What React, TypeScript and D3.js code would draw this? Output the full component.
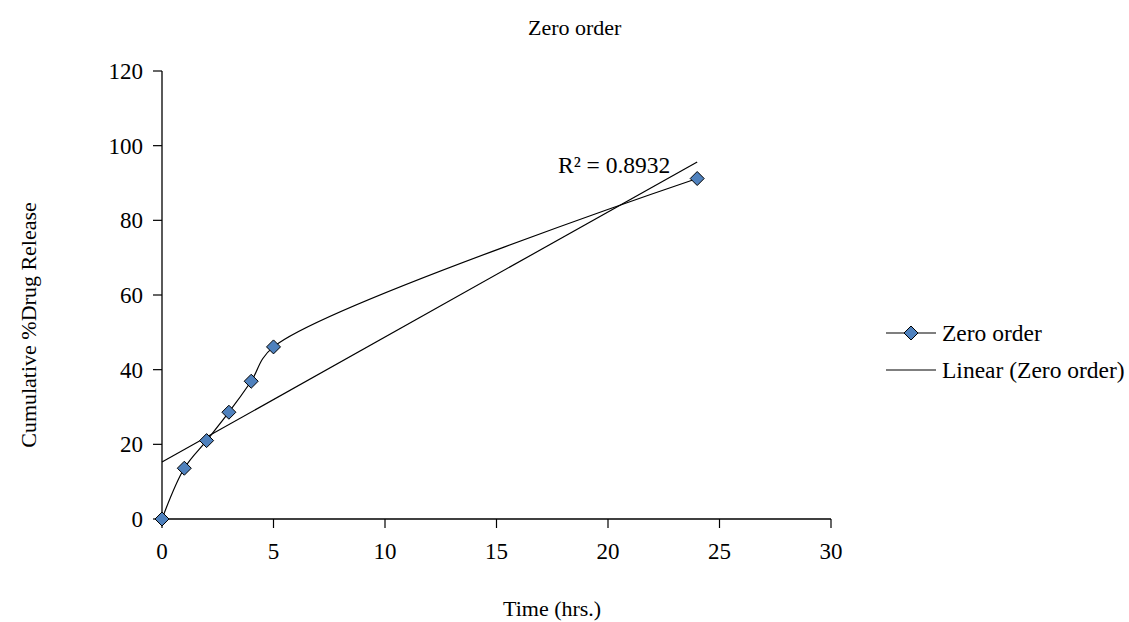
import React from "react";
import * as d3 from "d3";

const timeHrs = [0, 1, 2, 3, 4, 5, 24];
const releasePct = [0, 13.6, 21.0, 28.6, 36.9, 46.1, 91.2];
const xTicks = [0, 5, 10, 15, 20, 25, 30];
const yTicks = [0, 20, 40, 60, 80, 100, 120];
const seriesName = "Zero order";
const trendName = "Linear (Zero order)";
const r2Label = "R² = 0.8932";

const W = 1129;
const H = 622;
const FONT = "'Liberation Serif', 'Times New Roman', serif";

export default function App() {
  const x = d3.scaleLinear().domain([0, 30]).range([162, 831]);
  const y = d3.scaleLinear().domain([0, 120]).range([519, 71]);

  const pts = timeHrs.map((t, i) => [t, releasePct[i]] as [number, number]);
  const mx = d3.mean(timeHrs)!;
  const my = d3.mean(releasePct)!;
  const sxy = d3.sum(pts, (p) => (p[0] - mx) * (p[1] - my));
  const sxx = d3.sum(pts, (p) => (p[0] - mx) ** 2);
  const slope = sxy / sxx;
  const intercept = my - slope * mx;
  const xMax = d3.max(timeHrs)!;

  const line = d3
    .line<[number, number]>()
    .x((d) => x(d[0]))
    .y((d) => y(d[1]))
    .curve(d3.curveCatmullRom.alpha(0.5));

  const diamond = (cx: number, cy: number, r = 7) =>
    `M${cx},${cy - r}L${cx + r},${cy}L${cx},${cy + r}L${cx - r},${cy}Z`;

  return (
    <svg
      width={W}
      height={H}
      style={{ position: "absolute", left: 0, top: 0, background: "#fff" }}
      fontFamily={FONT}
    >
      <rect width={W} height={H} fill="#fff" />
      <text x={528} y={35} fontSize={22} fill="#000">
        {seriesName}
      </text>

      {/* axes */}
      <line x1={x(0)} x2={x(0)} y1={y(0)} y2={y(120)} stroke="#000" strokeWidth={1.3} />
      <line x1={x(0)} x2={x(30)} y1={y(0)} y2={y(0)} stroke="#000" strokeWidth={1.3} />
      {yTicks.map((t) => (
        <g key={"y" + t}>
          <line x1={x(0) - 9} x2={x(0)} y1={y(t)} y2={y(t)} stroke="#000" strokeWidth={1.2} />
          <text x={x(0) - 19} y={y(t)} dy="0.35em" textAnchor="end" fontSize={23} fill="#000">
            {t}
          </text>
        </g>
      ))}
      {xTicks.map((t) => (
        <g key={"x" + t}>
          <line x1={x(t)} x2={x(t)} y1={y(0)} y2={y(0) + 9} stroke="#000" strokeWidth={1.2} />
          <text x={x(t)} y={y(0) + 40} textAnchor="middle" fontSize={23} fill="#000">
            {t}
          </text>
        </g>
      ))}

      <text x={503} y={616} fontSize={22} fill="#000">
        Time (hrs.)
      </text>
      <text
        transform={`translate(36,325) rotate(-90)`}
        textAnchor="middle"
        fontSize={22}
        fill="#000"
      >
        Cumulative %Drug Release
      </text>

      {/* trendline */}
      <line
        x1={x(0)}
        y1={y(intercept)}
        x2={x(xMax)}
        y2={y(intercept + slope * xMax)}
        stroke="#000"
        strokeWidth={1.2}
      />

      {/* series */}
      <path d={line(pts) ?? ""} fill="none" stroke="#000" strokeWidth={1.2} />
      {pts.map((p, i) => (
        <path key={i} d={diamond(x(p[0]), y(p[1]))} fill="#4F81BD" stroke="#000" strokeWidth={1} />
      ))}

      <text x={558} y={173} fontSize={23.5} fill="#000">
        {r2Label}
      </text>

      {/* legend */}
      <line x1={886} x2={936} y1={333} y2={333} stroke="#000" strokeWidth={1.2} />
      <path d={diamond(911, 333, 7)} fill="#4F81BD" stroke="#000" strokeWidth={1} />
      <text x={942} y={333} dy="0.35em" fontSize={23.5} fill="#000">
        {seriesName}
      </text>
      <line x1={886} x2={936} y1={370} y2={370} stroke="#000" strokeWidth={1.2} />
      <text x={942} y={370} dy="0.35em" fontSize={23.5} fill="#000">
        {trendName}
      </text>
    </svg>
  );
}
